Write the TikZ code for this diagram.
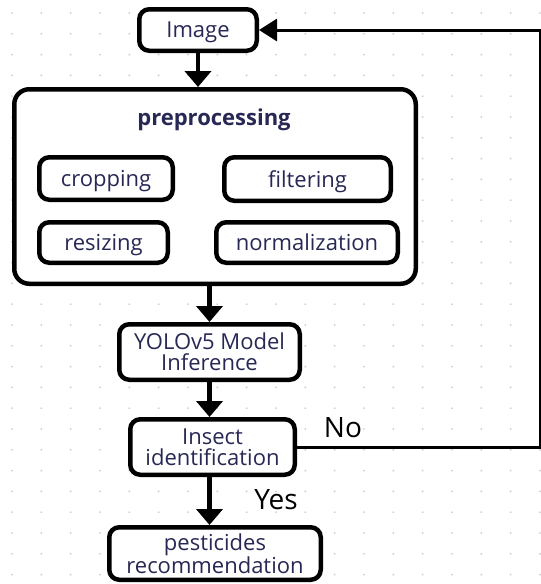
\documentclass[tikz,border=0pt]{standalone}
\usepackage{fontspec}
\setmainfont{Open Sans}
\usetikzlibrary{arrows.meta}
\usetikzlibrary{calc}

\definecolor{testo}{RGB}{40,40,85}
\definecolor{punto}{RGB}{200,205,222}

\tikzset{
    blocco/.style={draw, line width=4.5pt, rounded corners=10pt, fill=white,
        text=testo, align=center, inner sep=0pt, text depth=0pt,
        font=\fontsize{22}{21}\selectfont},
    freccia/.style={line width=4.5pt, -{Triangle[width=26pt,length=16pt]}},
    etichetta/.style={inner sep=0pt, font=\fontsize{28}{28}\selectfont}
}

\begin{document}
\begin{tikzpicture}[x=1pt, y=-1pt]

    % === Area del disegno ===
    \useasboundingbox (0,0) rectangle (541,584);
    \fill[white] (0,0) rectangle (541,584);

    % === 1. Griglia di punti (sfondo) ===
    \foreach \i in {0,...,18} {
        \foreach \j in {0,...,27} {
            \fill[punto] (12+29.33*\i, 13+20.8*\j) circle (1);
        }
    }

    % === 2. Blocchi principali ===
    \node[blocco, minimum width=117.5pt, minimum height=41.5pt] (img) at (198,30) {Image};
    \node[blocco, rounded corners=15pt, minimum width=401.5pt, minimum height=194.5pt] (prep) at (215,186.5) {};
    \node[text=testo, inner sep=0pt, font=\fontsize{22}{22}\selectfont\bfseries] (preptit) at (214,120) {preprocessing};

    % Sotto-blocchi della preelaborazione
    \node[blocco, minimum width=133.5pt, minimum height=42.5pt] (crop) at (106,178.5) {cropping};
    \node[blocco, minimum width=166.5pt, minimum height=43.5pt] (filt) at (307.5,179) {filtering};
    \node[blocco, minimum width=128.5pt, minimum height=40.5pt] (resize) at (103.5,242.5) {resizing};
    \node[blocco, minimum width=181.5pt, minimum height=40.5pt] (norm) at (307,242.5) {normalization};

    \node[blocco, minimum width=180.5pt, minimum height=55.5pt] (yolo) at (209.5,352) {YOLOv5 Model\\Inference};
    \node[blocco, minimum width=164.5pt, minimum height=55.5pt] (insect) at (212.5,447) {Insect\\identification};
    \node[blocco, minimum width=211.5pt, minimum height=52.5pt] (pest) at (215,553.5) {pesticides\\recommendation};

    % === 3. Frecce del flusso ===
    \draw[freccia] (img.south) -- (img.south |- prep.north);
    \draw[freccia] (yolo.north |- prep.south) -- (yolo.north);
    \draw[freccia] (yolo.south) -- (yolo.south |- insect.north);
    \draw[freccia] (yolo.south |- insect.south) -- (yolo.south |- pest.north);

    % === 4. Ritorno (No) verso l'immagine ===
    \coordinate (ritorno) at (540,30);
    \draw[line width=3pt, -{Triangle[width=22pt,length=18pt]}]
        (insect.east) -- (insect.east -| ritorno) -- (ritorno) -- (img.east);

    % === 5. Etichette ===
    \node[etichetta] (no) at (343,428) {No};
    \node[etichetta] (si) at (276,500) {Yes};

\end{tikzpicture}
\end{document}
